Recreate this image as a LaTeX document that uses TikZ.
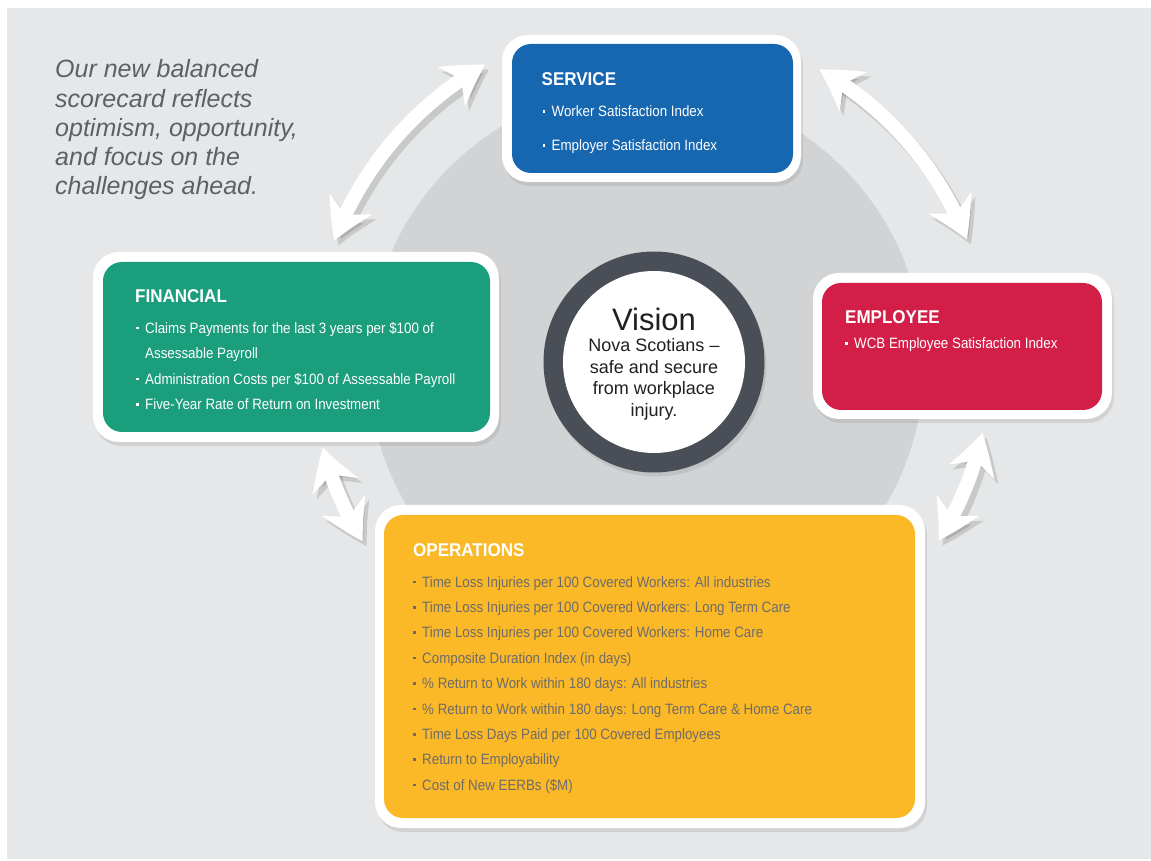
\documentclass[tikz,border=0pt]{standalone}
\usepackage{fontspec}
\setmainfont{Liberation Sans}
\newfontfamily\condfont{Liberation Sans}[FakeStretch=0.89]
\newfontfamily\titlefont{Liberation Sans}[FakeStretch=0.92]
\usetikzlibrary{arrows.meta,bending,shadows,calc}
\definecolor{bggray}{HTML}{E6E7E8}
\definecolor{circgray}{HTML}{D1D3D5}
\definecolor{srvblue}{HTML}{1666B0}
\definecolor{fingreen}{HTML}{1B9E7B}
\definecolor{empred}{HTML}{D31F48}
\definecolor{opsyellow}{HTML}{FBB827}
\definecolor{ringgray}{HTML}{4A4F57}
\definecolor{optext}{HTML}{6E6C6A}
\definecolor{introgray}{HTML}{5F6062}
\definecolor{visiontext}{HTML}{231F20}
\newcommand\bul{\makebox[9pt][l]{\raisebox{3.8pt}{\rule{2.6pt}{2.6pt}}}}
\tikzset{tipA/.tip={Stealth[length=40pt,width=47pt,inset=12pt,bend]}}
\begin{document}
\begin{tikzpicture}[x=1pt,y=1pt,
  outerbox/.style={fill=white, rounded corners=26pt, inner sep=0pt,
    drop shadow={shadow xshift=2pt, shadow yshift=-4pt, opacity=0.2}},
  innerbox/.style={rounded corners=19pt, inner sep=0pt},
  boxtitle/.style={anchor=base west, inner sep=0pt, text=white,
    font=\titlefont\bfseries\fontsize{18.5}{20}\selectfont},
  items/.style={anchor=base west, inner sep=0pt, align=left,
    font=\condfont\fontsize{15}{25.4}\selectfont},
  dbl/.style={draw=white, line width=14pt, arrows={tipA-tipA}},
  dblshadow/.style={draw=black, opacity=0.13, line width=15pt, arrows={tipA-tipA}}
]
\useasboundingbox (0,0) rectangle (1151,860);
\fill[white] (0,0) rectangle (1151,860);
\fill[bggray] (7,1) rectangle (1151,852);
\fill[circgray] (646,496) circle[radius=278];

% arrow anchors on a circle around the vision
\coordinate (c) at (654,498);
\coordinate (a1s) at ($(c)+(119.6:342)$);
\coordinate (a2s) at ($(c)+(60.5:336)$);
\coordinate (a3s) at ($(c)+(194.5:342)$);
\coordinate (a4s) at ($(c)+(-12.2:336)$);

\foreach \s/\p/\q/\rr in {a1s/119.6/159.2/342, a2s/60.5/21.4/336, a3s/194.5/211.6/342, a4s/-12.2/-32.1/336}{
  \draw[dblshadow, transform canvas={shift={(4pt,-5pt)}}] (\s) arc[start angle=\p, end angle=\q, radius=\rr];
}
\foreach \s/\p/\q/\rr in {a1s/119.6/159.2/342, a2s/60.5/21.4/336, a3s/194.5/211.6/342, a4s/-12.2/-32.1/336}{
  \draw[dbl] (\s) arc[start angle=\p, end angle=\q, radius=\rr];
}

% intro text (base anchor = last line)
\node[anchor=base west, align=left, inner sep=0pt, text=introgray,
  font=\itshape\fontsize{25}{29.3}\selectfont] (intro) at (55,665)
  {Our new balanced\\scorecard reflects\\optimism, opportunity,\\and focus on the\\challenges ahead.};

% vision
\node[circle, fill=ringgray, minimum size=221pt, inner sep=0pt,
  drop shadow={shadow xshift=2pt, shadow yshift=-4pt, opacity=0.2}] (ring) at (654,498) {};
\node[circle, fill=white, minimum size=182pt, inner sep=0pt] (visionin) at (ring) {};
\node[anchor=base, inner sep=0pt, text=visiontext, font=\fontsize{31}{33}\selectfont] (vtitle) at (654,529) {Vision};
\node[anchor=base, align=center, inner sep=0pt, text=visiontext, font=\fontsize{18}{21.5}\selectfont] (vtext) at (654,443.5)
  {Nova Scotians –\\safe and secure\\from workplace\\injury.};

% service
\node[outerbox, minimum width=299pt, minimum height=147pt] (service) at (651.5,751.5) {};
\node[innerbox, fill=srvblue, minimum width=281pt, minimum height=129pt] (servicein) at (652.5,751.5) {};
\node[boxtitle] (servicet) at (541.5,774) {SERVICE};
\node[items, text=white, font=\condfont\fontsize{15}{34}\selectfont] (servicei) at (542.5,709.3)
  {\bul Worker Satisfaction Index\\\bul Employer Satisfaction Index};

% financial
\node[outerbox, minimum width=406pt, minimum height=190pt] (financial) at (296,513) {};
\node[innerbox, fill=fingreen, minimum width=387pt, minimum height=170pt] (financialin) at (296.5,513) {};
\node[boxtitle] (financialt) at (135,557) {FINANCIAL};
\node[items, text=white] (financiali) at (136,450.5)
  {\bul Claims Payments for the last 3 years per \$100 of\\\hspace*{9pt}Assessable Payroll\\\bul Administration Costs per \$100 of Assessable Payroll\\\bul Five-Year Rate of Return on Investment};

% employee
\node[outerbox, minimum width=299pt, minimum height=146pt] (employee) at (962.5,514) {};
\node[innerbox, fill=empred, minimum width=280pt, minimum height=127pt] (employeein) at (962,513.5) {};
\node[boxtitle] (employeet) at (845,536) {EMPLOYEE};
\node[items, text=white] (employeei) at (845,511.3) {\bul WCB Employee Satisfaction Index};

% operations
\node[outerbox, minimum width=550pt, minimum height=323pt] (operations) at (650,193.5) {};
\node[innerbox, fill=opsyellow, minimum width=531pt, minimum height=303pt] (operationsin) at (649.5,193.5) {};
\node[boxtitle] (operationst) at (413,303) {OPERATIONS};
\node[items, text=optext] (operationsi) at (413,69.8)
  {\bul Time Loss Injuries per 100 Covered Workers: All industries\\
   \bul Time Loss Injuries per 100 Covered Workers: Long Term Care\\
   \bul Time Loss Injuries per 100 Covered Workers: Home Care\\
   \bul Composite Duration Index (in days)\\
   \bul \% Return to Work within 180 days: All industries\\
   \bul \% Return to Work within 180 days: Long Term Care \& Home Care\\
   \bul Time Loss Days Paid per 100 Covered Employees\\
   \bul Return to Employability\\
   \bul Cost of New EERBs (\$M)};
\end{tikzpicture}
\end{document}
